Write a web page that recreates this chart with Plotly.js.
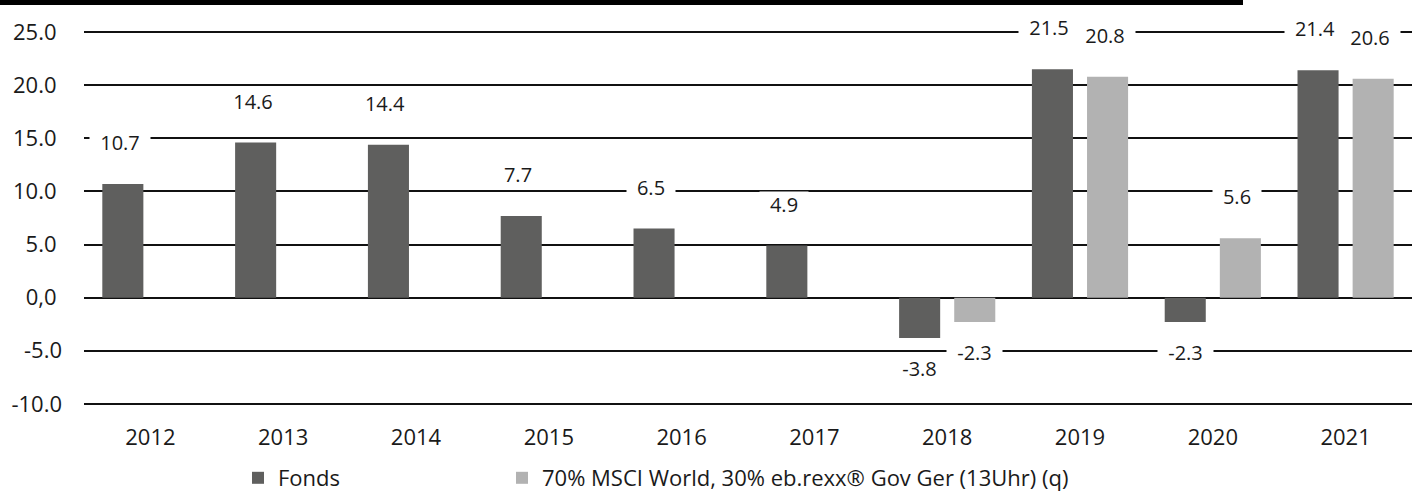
<!DOCTYPE html>
<html>
<head>
<meta charset="utf-8">
<script src="https://cdn.plot.ly/plotly-3.0.1.min.js"></script>
<style>html,body{margin:0;padding:0;background:#fff;}#chart{width:1426px;height:492px;}</style>
</head>
<body>
<div id="chart"></div>
<script>
const years = ["2012","2013","2014","2015","2016","2017","2018","2019","2020","2021"];
const fonds = [10.7, 14.6, 14.4, 7.7, 6.5, 4.9, -3.8, 21.5, -2.3, 21.4];
const bench = [null, null, null, null, null, null, -2.3, 20.8, 5.6, 20.6];
const fondsName = "Fonds";
const benchName = "70% MSCI World, 30% eb.rexx® Gov Ger (13Uhr) (q)";
const yTickVals = [25, 20, 15, 10, 5, 0, -5, -10];
const yTickText = ["25.0", "20.0", "15.0", "10.0", "5.0", "0,0", "-5.0", "-10.0"];

const FONT = "Open Sans, Noto Sans, sans-serif";
const TXT = '#1a1a1a';
const T = 30, B = 86, L = 84, R = 14, W = 1426, H = 492;
const plotW = W - L - R;
const plotH = H - T - B;
const bargap = 0.17;
const slot = plotW / years.length * (1 - bargap) / 2;
const pyToPaper = py => 1 + (T - py) / plotH;
const pxToPaper = px => (px - L) / plotW;

const ctx = document.createElement('canvas').getContext('2d');
ctx.font = '20px "Open Sans"';
const textWidth = s => ctx.measureText(s).width;

const annotations = [];
function addLabels(vals, shift) {
  vals.forEach((v, i) => {
    if (v === null) return;
    const s = v.toFixed(1);
    annotations.push({
      x: i, y: v, xref: 'x', yref: 'y',
      text: s, showarrow: false,
      xshift: shift + (v >= 0 ? -3 : 0), yshift: v >= 0 ? 42 : -30,
      yanchor: 'middle', xanchor: 'center',
      width: Math.round(textWidth(s) + 20), height: 24, align: 'center', valign: 'middle',
      bgcolor: '#ffffff', borderpad: 0,
      font: {family: FONT, size: 20, color: TXT}
    });
  });
}
addLabels(fonds, -slot / 2);
addLabels(bench, slot / 2);

// positive tick labels sit slightly further left in the reference
const yTickLabels = yTickText.map((t, i) => yTickVals[i] >= 0 ? t + '\u2005' : t);

const data = [
  {type: 'bar', name: fondsName, x: years, y: fonds, marker: {color: '#5f5f5e'}, hoverinfo: 'none', legend: 'legend'},
  {type: 'bar', name: benchName, x: years, y: bench, marker: {color: '#b2b2b2'}, hoverinfo: 'none', legend: 'legend2'}
];

const legendBase = {orientation: 'h', xanchor: 'left', y: pyToPaper(478), yanchor: 'middle',
  font: {family: FONT, size: 22, color: TXT}, bgcolor: 'rgba(0,0,0,0)', borderwidth: 0};

const layout = {
  width: W, height: H,
  margin: {l: L, r: R, t: T, b: B, autoexpand: false},
  paper_bgcolor: '#fff', plot_bgcolor: '#fff',
  barmode: 'group', bargap: bargap, bargroupgap: 0.255,
  font: {family: FONT, size: 20, color: TXT},
  xaxis: {type: 'category', range: [-0.5, 9.5], showgrid: false, showline: false, zeroline: false, ticks: '',
          automargin: false, tickfont: {family: FONT, size: 22, color: TXT}, ticklabelstandoff: 16},
  yaxis: {range: [-10.2, 25.2], tickvals: yTickVals, ticktext: yTickLabels, showgrid: true,
          gridcolor: '#111111', gridwidth: 2, zeroline: true, zerolinecolor: '#111111', zerolinewidth: 2,
          showline: false, ticks: '', ticklabelstandoff: 21, automargin: false,
          tickfont: {family: FONT, size: 22, color: TXT}},
  showlegend: true,
  legend: Object.assign({}, legendBase, {x: pxToPaper(238)}),
  legend2: Object.assign({}, legendBase, {x: pxToPaper(502)}),
  shapes: [{type: 'rect', xref: 'paper', yref: 'paper', x0: pxToPaper(0), x1: pxToPaper(1243),
            y0: pyToPaper(5), y1: pyToPaper(0), fillcolor: '#000', line: {width: 0}}],
  annotations: annotations
};

Plotly.newPlot('chart', data, layout, {displayModeBar: false, staticPlot: true});
</script>
</body>
</html>
